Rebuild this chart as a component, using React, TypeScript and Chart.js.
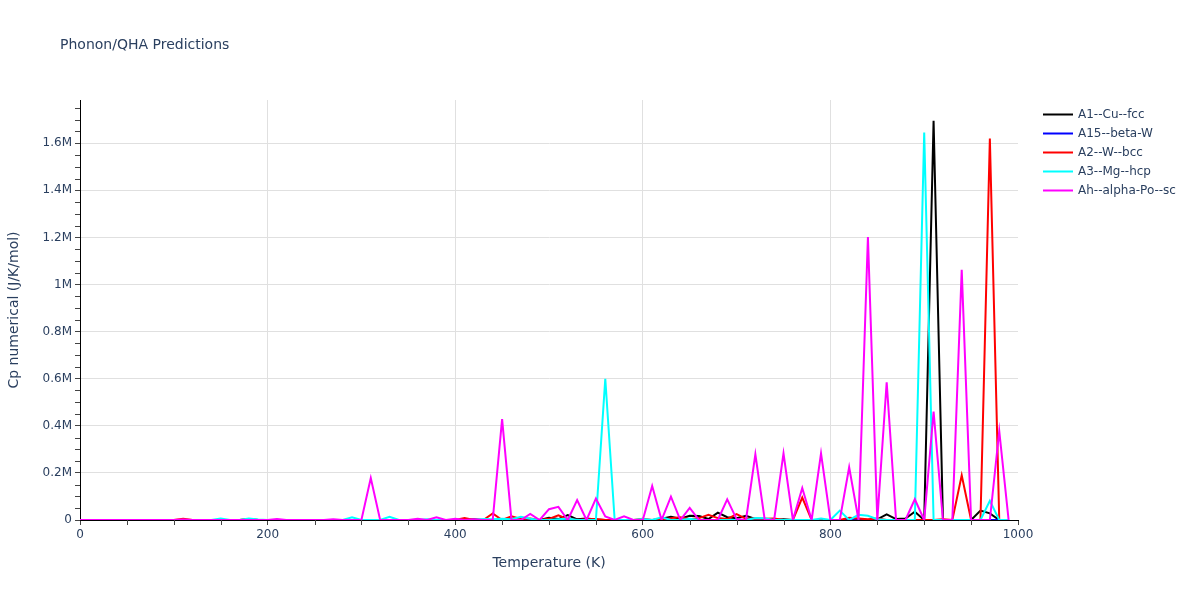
import React, { useEffect, useRef } from "react";
import { Chart, registerables } from "chart.js";

Chart.register(...registerables);

const chartTitle = "Phonon/QHA Predictions";
const xAxisTitle = "Temperature (K)";
const yAxisTitle = "Cp numerical (J/K/mol)";

const temperatures = [
  0, 10, 20, 30, 40, 50, 60, 70, 80, 90,
  100, 110, 120, 130, 140, 150, 160, 170, 180, 190,
  200, 210, 220, 230, 240, 250, 260, 270, 280, 290,
  300, 310, 320, 330, 340, 350, 360, 370, 380, 390,
  400, 410, 420, 430, 440, 450, 460, 470, 480, 490,
  500, 510, 520, 530, 540, 550, 560, 570, 580, 590,
  600, 610, 620, 630, 640, 650, 660, 670, 680, 690,
  700, 710, 720, 730, 740, 750, 760, 770, 780, 790,
  800, 810, 820, 830, 840, 850, 860, 870, 880, 890,
  900, 910, 920, 930, 940, 950, 960, 970, 980, 990,
];

const seriesNames = ["A1--Cu--fcc", "A15--beta-W", "A2--W--bcc", "A3--Mg--hcp", "Ah--alpha-Po--sc"];
const seriesColors = ["#000000", "#0000ff", "#ff0000", "#00ffff", "#ff00ff"];

const cpA1 = [
  0, 0, 0, 0, 0, 0, 0, 0, 0, 0,
  0, 0, 0, 0, 0, 0, 0, 0, 3000, 0,
  0, 0, 0, 0, 0, 0, 0, 0, 0, 0,
  0, 0, 0, 0, 0, 0, 0, 0, 0, 0,
  0, 0, 3000, 0, 0, 0, 5000, 0, 0, 0,
  10000, 4000, 21000, 3000, 6000, 2000, 0, 0, 0, 0,
  0, 0, 5000, 14000, 5000, 18000, 17000, 4000, 31000, 12000,
  8000, 18000, 4000, 0, 0, 3000, 0, 0, 0, 0,
  0, 0, 0, 0, 0, 3000, 24000, 4000, 6000, 35000,
  0, 1695000, 0, 0, 0, 0, 40000, 28000, 0, 0,
];

const cpA15 = [
  0, 0, 0, 0, 0, 0, 0, 0, 0, 0,
  0, 0, 0, 0, 0, 0, 0, 0, 0, 0,
  0, 0, 0, 0, 0, 0, 0, 0, 0, 0,
  0, 0, 0, 0, 0, 0, 0, 0, 0, 0,
  0, 0, 0, 0, 0, 0, 0, 0, 0, 0,
  0, 0, 0, 0, 0, 0, 0, 0, 0, 0,
  0, 0, 0, 0, 0, 0, 0, 0, 0, 0,
  0, 0, 0, 0, 0, 0, 0, 0, 0, 0,
  0, 0, 0, 0, 0, 0, 0, 0, 0, 0,
  0, 0, 0, 0, 0, 0, 0, 0, 0, 0,
];

const cpA2 = [
  0, 0, 0, 0, 0, 0, 0, 0, 0, 0,
  0, 5000, 0, 0, 0, 0, 0, 0, 4000, 0,
  0, 0, 0, 0, 0, 0, 0, 0, 0, 0,
  0, 0, 0, 0, 0, 0, 0, 0, 0, 0,
  0, 8000, 0, 0, 28000, 0, 16000, 4000, 6000, 0,
  5000, 20000, 3000, 0, 3000, 4000, 0, 0, 0, 0,
  5000, 0, 0, 8000, 12000, 3000, 8000, 22000, 8000, 4000,
  25000, 5000, 6000, 5000, 6000, 0, 0, 95000, 0, 0,
  0, 0, 9000, 6000, 3000, 6000, 0, 0, 0, 0,
  0, 0, 3000, 0, 190000, 0, 0, 1620000, 0, 0,
];

const cpA3 = [
  0, 0, 0, 0, 0, 0, 0, 0, 0, 0,
  0, 0, 0, 0, 0, 6000, 0, 0, 6000, 2000,
  0, 0, 0, 0, 0, 0, 0, 0, 0, 12000,
  0, 0, 0, 14000, 0, 0, 0, 3000, 0, 0,
  0, 0, 0, 4000, 3000, 5000, 3000, 14000, 5000, 0,
  0, 3000, 6000, 0, 0, 0, 600000, 0, 0, 0,
  4000, 0, 12000, 0, 0, 5000, 0, 0, 0, 0,
  0, 0, 8000, 7000, 0, 0, 0, 0, 0, 6000,
  0, 40000, 0, 22000, 18000, 3000, 0, 0, 0, 0,
  1645000, 0, 0, 0, 0, 0, 0, 82000, 0, 0,
];

const cpAh = [
  0, 0, 0, 0, 0, 0, 0, 0, 0, 0,
  0, 2000, 0, 0, 0, 0, 0, 0, 0, 0,
  0, 4000, 0, 0, 0, 0, 0, 3000, 0, 0,
  0, 178000, 0, 0, 0, 0, 5000, 0, 11000, 0,
  5000, 0, 3000, 0, 0, 428000, 0, 0, 26000, 0,
  46000, 56000, 0, 85000, 0, 91000, 15000, 0, 16000, 0,
  0, 144000, 0, 99000, 0, 51000, 0, 0, 0, 88000,
  4000, 0, 279000, 0, 0, 283000, 0, 136000, 0, 283000,
  0, 0, 224000, 0, 1202000, 0, 585000, 0, 0, 88000,
  0, 460000, 0, 0, 1062000, 0, 0, 0, 378000, 0,
];

const seriesValues = [cpA1, cpA15, cpA2, cpA3, cpAh];

const xTickValues = [0, 200, 400, 600, 800, 1000];
const xTickLabels = ["0", "200", "400", "600", "800", "1000"];
const xMinorTicks = [50, 100, 150, 250, 300, 350, 450, 500, 550, 650, 700, 750, 850, 900, 950];
const yTickValues = [0, 200000, 400000, 600000, 800000, 1000000, 1200000, 1400000, 1600000];
const yTickLabels = ["0", "0.2M", "0.4M", "0.6M", "0.8M", "1M", "1.2M", "1.4M", "1.6M"];
const yMinorTicks = [
  50000, 100000, 150000, 250000, 300000, 350000, 450000, 500000, 550000,
  650000, 700000, 750000, 850000, 900000, 950000, 1050000, 1100000, 1150000,
  1250000, 1300000, 1350000, 1450000, 1500000, 1550000, 1650000, 1700000, 1750000,
];

const FONT = '"DejaVu Sans", Verdana, sans-serif';
const TEXT_COLOR = "#2a3f5f";
const GRID_COLOR = "#e0e0e0";

const overlayPlugin = {
  id: "overlay",
  afterDraw(chart: any) {
    const ctx = chart.ctx;
    const xs = chart.scales.x;
    const ys = chart.scales.y;
    const { left, bottom } = chart.chartArea;
    ctx.save();
    ctx.strokeStyle = "#444";
    ctx.lineWidth = 1;
    yMinorTicks.forEach((v) => {
      const py = Math.round(ys.getPixelForValue(v)) + 0.5;
      ctx.beginPath();
      ctx.moveTo(left - 5, py);
      ctx.lineTo(left, py);
      ctx.stroke();
    });
    xMinorTicks.forEach((v) => {
      const px = Math.round(xs.getPixelForValue(v)) + 0.5;
      ctx.beginPath();
      ctx.moveTo(px, bottom);
      ctx.lineTo(px, bottom + 5);
      ctx.stroke();
    });
    // title
    ctx.fillStyle = TEXT_COLOR;
    ctx.font = `14px ${FONT}`;
    ctx.textBaseline = "middle";
    ctx.textAlign = "left";
    ctx.fillText(chartTitle, 60, 45);
    // legend
    ctx.font = `12px ${FONT}`;
    chart.data.datasets.forEach((ds: any, i: number) => {
      const y = 114.5 + i * 19;
      ctx.strokeStyle = ds.borderColor;
      ctx.lineWidth = 2;
      ctx.beginPath();
      ctx.moveTo(1043, y);
      ctx.lineTo(1073, y);
      ctx.stroke();
      ctx.fillStyle = TEXT_COLOR;
      ctx.fillText(ds.label, 1078, y);
    });
    ctx.restore();
  },
};

export default function App() {
  const canvasRef = useRef<HTMLCanvasElement | null>(null);

  useEffect(() => {
    document.body.style.margin = "0";
    const canvas = canvasRef.current;
    if (!canvas) return;
    const datasets = seriesNames.map((name, i) => ({
      label: name,
      data: temperatures.map((t, j) => ({ x: t, y: seriesValues[i][j] })),
      borderColor: seriesColors[i],
      backgroundColor: seriesColors[i],
      borderWidth: 2,
      pointRadius: 0,
      tension: 0,
      fill: false,
      order: seriesNames.length - i,
    }));
    const chart = new Chart(canvas, {
      type: "line",
      data: { datasets },
      options: {
        animation: false,
        responsive: true,
        maintainAspectRatio: false,
        layout: { padding: { left: 0, right: 182, top: 100, bottom: 0 } },
        plugins: { legend: { display: false }, tooltip: { enabled: false }, title: { display: false } },
        scales: {
          x: {
            type: "linear",
            min: 0,
            max: 1000,
            afterFit: (s: any) => { s.height = 80; },
            afterBuildTicks: (s: any) => { s.ticks = xTickValues.map((v) => ({ value: v })); },
            ticks: {
              autoSkip: false,
              maxRotation: 0,
              padding: 3,
              color: TEXT_COLOR,
              font: { family: FONT, size: 12 },
              callback: (v: any) => xTickLabels[xTickValues.indexOf(Number(v))] ?? "",
            },
            grid: {
              color: (c: any) => (c.tick && (c.tick.value === 0 || c.tick.value === 1000) ? "rgba(0,0,0,0)" : GRID_COLOR),
              tickColor: "#444",
              tickLength: 5,
              drawTicks: true,
            },
            border: { display: true, color: "#000", width: 1 },
            title: {
              display: true,
              text: xAxisTitle,
              color: TEXT_COLOR,
              font: { family: FONT, size: 14 },
              padding: { top: 0, bottom: 28.6 },
            },
          },
          y: {
            type: "linear",
            min: 0,
            max: 1783400,
            afterFit: (s: any) => { s.width = 80; },
            afterBuildTicks: (s: any) => { s.ticks = yTickValues.map((v) => ({ value: v })); },
            ticks: {
              autoSkip: false,
              padding: 3,
              color: TEXT_COLOR,
              font: { family: FONT, size: 12 },
              callback: (v: any) => yTickLabels[yTickValues.indexOf(Number(v))] ?? "",
            },
            grid: {
              color: (c: any) => (c.tick && c.tick.value === 0 ? "rgba(0,0,0,0)" : GRID_COLOR),
              tickColor: "#444",
              tickLength: 5,
              drawTicks: true,
            },
            border: { display: true, color: "#000", width: 1 },
            title: {
              display: true,
              text: yAxisTitle,
              color: TEXT_COLOR,
              font: { family: FONT, size: 14 },
              padding: { top: 5.6, bottom: 0 },
            },
          },
        },
      },
      plugins: [overlayPlugin],
    });
    return () => chart.destroy();
  }, []);

  return (
    <div style={{ position: "absolute", left: 0, top: 0, width: 1200, height: 600, background: "#fff" }}>
      <canvas ref={canvasRef} />
    </div>
  );
}
